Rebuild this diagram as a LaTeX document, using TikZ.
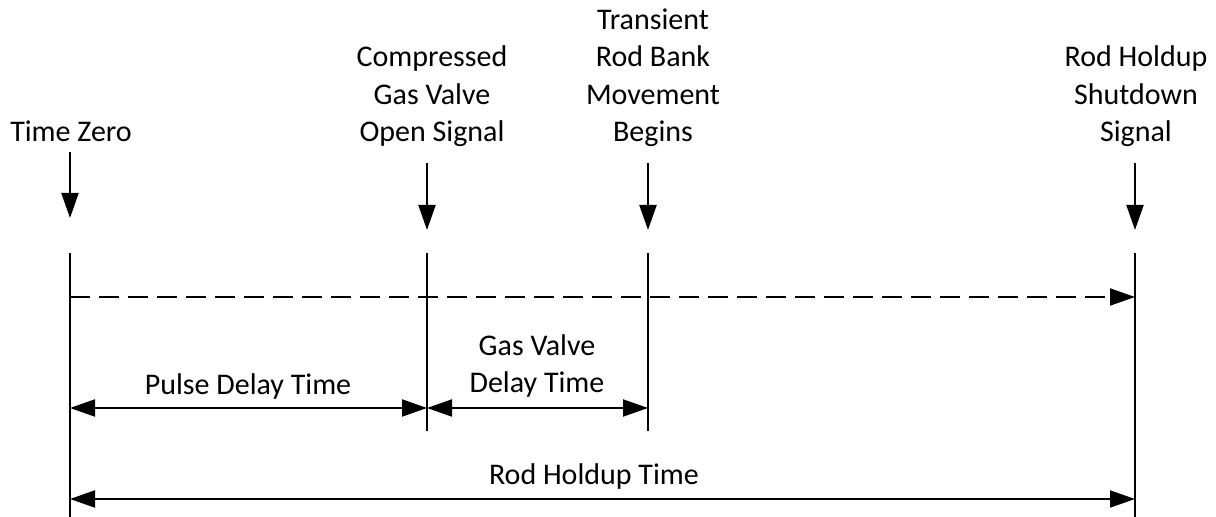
\documentclass[tikz,border=0pt]{standalone}
\usepackage{fontspec}
\setmainfont{Carlito}
\usetikzlibrary{arrows.meta,positioning}

\begin{document}
\begin{tikzpicture}[x=0.5pt,y=-0.5pt,
    every node/.style={font=\fontsize{15}{18.75}\selectfont,align=center,inner sep=0pt,text depth=0pt},
    label/.style={anchor=south},
    tick/.style={line width=1pt},
    tip/.tip={Triangle[length=12.5pt,width=8.5pt]},
    event/.style={line width=1pt,-tip},
    dimline/.style={line width=1pt,tip-tip},
    dashline/.style={line width=1pt,dash pattern=on 10pt off 4.5pt,-tip}]
    \useasboundingbox (0,0) rectangle (1216,517);

    \foreach \n/\x in {zero/70,cgv/427,trans/648,shut/1135} {
        \coordinate (\n-top) at (\x,253);
        \coordinate (\n-dash) at (\x,297);
        \coordinate (\n-dly) at (\x,408);
        \coordinate (\n-hold) at (\x,499);
        \coordinate (\n-in) at (\x,163);
        \coordinate (\n-at) at (\x,230);
    }
    \coordinate (cgv-bot) at (427,431);
    \coordinate (trans-bot) at (648,431);
    \coordinate (zero-bot) at (70,517);
    \coordinate (shut-bot) at (1135,517);
    \coordinate (zero-in) at (70,152);
    \coordinate (zero-at) at (70,218);

    \node[label] (zerolbl) at (71,142) {Time Zero};
    \node[label] (cgvlbl) at (432,142) {Compressed\\Gas Valve\\Open Signal};
    \node[label] (translbl) at (653,142) {Transient\\Rod Bank\\Movement\\Begins};
    \node[label] (shutlbl) at (1136,142) {Rod Holdup\\Shutdown\\Signal};

    \foreach \n in {zero,cgv,trans,shut} {
        \draw[event] (\n-in) -- (\n-at);
        \draw[tick] (\n-top) -- (\n-bot);
    }

    \draw[dashline] (zero-dash) -- (shut-dash);

    \draw[dimline] (zero-dly) -- (cgv-dly);
    \draw[dimline] (cgv-dly) -- (trans-dly);
    \draw[dimline] (zero-hold) -- (shut-hold);

    \node[label] (pulse) at (248,395) {Pulse Delay Time};
    \node[label] (gasdly) at (537,393) {Gas Valve\\Delay Time};
    \node[label] (holdup) at (594,485) {Rod Holdup Time};

\end{tikzpicture}
\end{document}
